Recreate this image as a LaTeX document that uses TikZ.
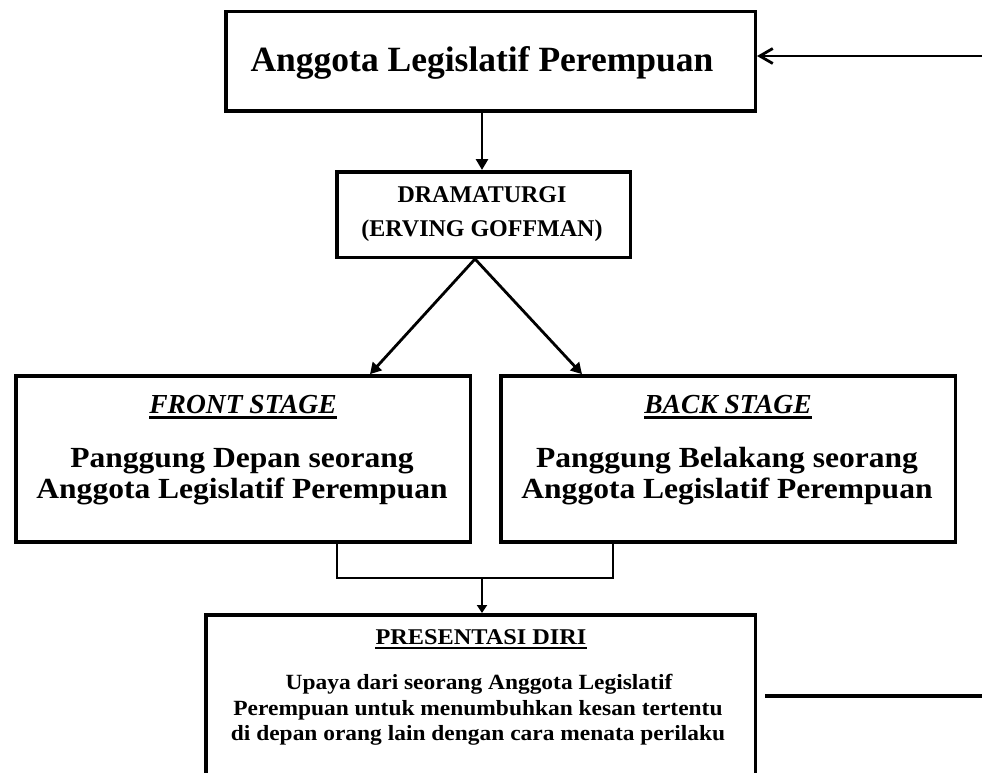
\documentclass[tikz,border=0pt]{standalone}
\usepackage{fontspec}
\setmainfont{Liberation Serif}
\newfontfamily\wideserif[FakeStretch=1.08]{Liberation Serif}
\usetikzlibrary{arrows.meta,calc}
\begin{document}
\begin{tikzpicture}[x=1pt,y=-1pt,
  boxframe/.style={draw,line width=3.5pt,inner sep=0pt,fill=none},
  txt/.style={inner sep=0pt,anchor=base},
  ttl/.style={txt,font=\fontsize{35.5}{40}\selectfont\bfseries},
  dtxt/.style={txt,font=\fontsize{24}{28}\selectfont\bfseries},
  stg/.style={txt,font=\fontsize{27.5}{30}\selectfont\bfseries\itshape},
  pan/.style={txt,font=\wideserif\fontsize{29.2}{33}\selectfont\bfseries},
  ptl/.style={txt,font=\wideserif\fontsize{22.5}{26}\selectfont\bfseries},
  bodytxt/.style={txt,font=\wideserif\fontsize{21.7}{25}\selectfont\bfseries},
  arr/.style={line width=2.8pt,-{Triangle[length=11pt,width=12pt]}},
  arrsmall/.style={line width=2pt,-{Triangle[length=8pt,width=10pt]}},
  thinline/.style={line width=2pt},
  ulin/.style={line width=#1}
]
\useasboundingbox (0,0) rectangle (982,773);
\clip (0,0) rectangle (982,773);

% boxes
\node[boxframe,minimum width=529.5pt,minimum height=99.5pt] (top) at (490.5,61.5) {};
\node[boxframe,minimum width=293.5pt,minimum height=85.5pt] (drama) at (483.5,214.5) {};
\node[boxframe,minimum width=454.5pt,minimum height=166pt] (front) at (243,458.9) {};
\node[boxframe,minimum width=454.5pt,minimum height=166pt] (back) at (728,458.9) {};
\node[boxframe,minimum width=549.5pt,minimum height=185.3pt] (pres) at (480.5,707.4) {};

% texts
\node[ttl] (toptxt) at (482,71.7) {Anggota Legislatif Perempuan};
\node[dtxt] (d1) at (482,202.7) {DRAMATURGI};
\node[dtxt] (d2) at (482,236.7) {(ERVING GOFFMAN)};

\node[stg] (fs) at (243,413) {FRONT STAGE};
\draw[ulin=2.8pt] ([yshift=-4.5pt]fs.base west) -- ([yshift=-4.5pt]fs.base east);
\node[pan] (f1) at (242,467) {Panggung Depan seorang};
\node[pan] (f2) at (242,498.5) {Anggota Legislatif Perempuan};

\node[stg] (bs) at (728,413) {BACK STAGE};
\draw[ulin=2.8pt] ([yshift=-4.5pt]bs.base west) -- ([yshift=-4.5pt]bs.base east);
\node[pan] (b1) at (727,467) {Panggung Belakang seorang};
\node[pan] (b2) at (727,498.5) {Anggota Legislatif Perempuan};

\node[ptl] (pt) at (481,644) {PRESENTASI DIRI};
\draw[ulin=2pt] ([yshift=-4pt]pt.base west) -- ([yshift=-4pt]pt.base east);
\node[bodytxt] (p1) at (479,689) {Upaya dari seorang Anggota Legislatif};
\node[bodytxt] (p2) at (478,715) {Perempuan untuk menumbuhkan kesan tertentu};
\node[bodytxt] (p3) at (478,740) {di depan orang lain dengan cara menata perilaku};

% helper coordinates
\coordinate (a1) at (482,0);
\coordinate (apex) at (475,0);
\coordinate (fa) at (370,0);
\coordinate (ba) at (582,0);
\coordinate (bl) at (337,0);
\coordinate (br) at (613,0);
\coordinate (mg) at (482,578);
\coordinate (in1) at (982,56);
\coordinate (r1) at (765,696);
\coordinate (r2) at (982,696);

% connectors
\draw[line width=2.8pt,-{Straight Barb[length=13pt,width=15pt]}] (in1) -- (top.east |- in1);
\draw[arr] (top.south -| a1) -- (drama.north -| a1);
\draw[arr] (drama.south -| apex) -- (front.north -| fa);
\draw[arr] (drama.south -| apex) -- (back.north -| ba);
\draw[thinline] (front.south -| bl) |- (mg) -| (back.south -| br);
\draw[arrsmall] (mg) -- (pres.north -| mg);
\draw[line width=3.3pt] (r1) -- (r2);
\end{tikzpicture}
\end{document}
